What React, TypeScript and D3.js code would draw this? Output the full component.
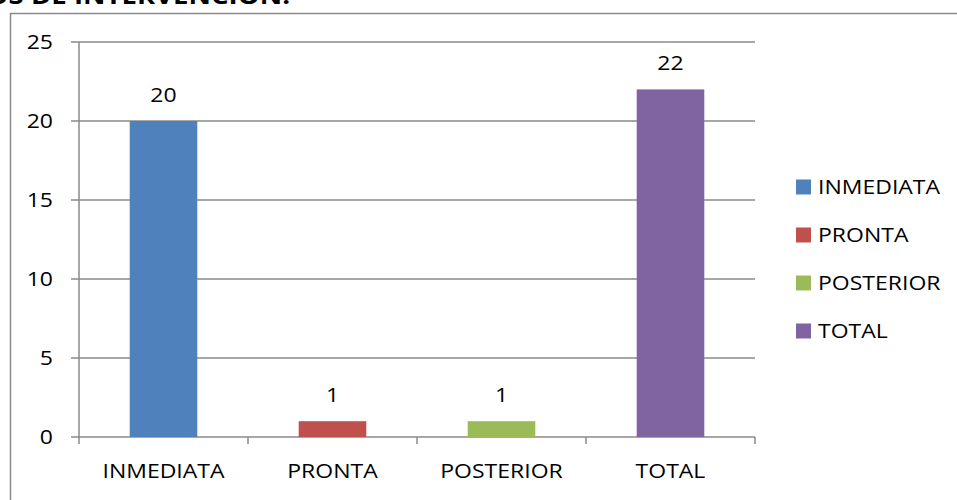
import React from "react";
import * as d3 from "d3";

const categories = ["INMEDIATA", "PRONTA", "POSTERIOR", "TOTAL"];
const values = [20, 1, 1, 22];
const colors = ["#4F81BD", "#C0504D", "#9BBB59", "#8064A2"];
const yTicks = [0, 5, 10, 15, 20, 25];
const titleText = "TIEMPOS DE INTERVENCION:";

const W = 957;
const H = 500;
const left = 79;
const right = 755;
const top = 42;
const bottom = 437;
const FONT = "'Open Sans', sans-serif";
const SX = 1.15;
const grid = "#8a8a8a";

export default function App() {
  const x = d3.scaleBand<string>().domain(categories).range([left, right]).paddingInner(0).paddingOuter(0);
  const y = d3.scaleLinear().domain([0, 25]).range([bottom, top]);
  const bw = x.bandwidth() * 0.4;

  const T = (px: number, py: number, txt: string, anchor: string, size = 20, weight = "normal") => (
    <text
      transform={`translate(${px},${py}) scale(${SX},1)`}
      textAnchor={anchor}
      fontFamily={FONT}
      fontSize={size}
      fontWeight={weight}
      fill="#000"
    >
      {txt}
    </text>
  );

  return (
    <svg width={W} height={H} style={{ position: "absolute", left: 0, top: 0, background: "#fff" }}>
      <rect x={0} y={0} width={W} height={H} fill="#fff" />
      {T(290, 4, titleText, "end", 24, "bold")}
      <rect x={10.5} y={13.5} width={W + 10} height={H + 10} fill="none" stroke={grid} strokeWidth={1.5} />
      {yTicks.map((t) => (
        <g key={t}>
          <line x1={left - 8} x2={right} y1={y(t)} y2={y(t)} stroke={grid} strokeWidth={1.5} />
          {T(53, y(t) + 7, String(t), "end")}
        </g>
      ))}
      <line x1={left} x2={left} y1={top} y2={bottom + 1} stroke={grid} strokeWidth={1.5} />
      {categories.map((c, i) => (
        <g key={c}>
          <line x1={x(c)!} x2={x(c)!} y1={bottom} y2={bottom + 7} stroke={grid} strokeWidth={1.5} />
          <rect
            x={x(c)! + (x.bandwidth() - bw) / 2}
            y={y(values[i])}
            width={bw}
            height={bottom - y(values[i])}
            fill={colors[i]}
          />
          {T(x(c)! + x.bandwidth() / 2, y(values[i]) - 19, String(values[i]), "middle")}
          {T(x(c)! + x.bandwidth() / 2, 478, c, "middle")}
        </g>
      ))}
      <line x1={right} x2={right} y1={bottom} y2={bottom + 7} stroke={grid} strokeWidth={1.5} />
      {categories.map((c, i) => {
        const cy = 187 + i * 48;
        return (
          <g key={"l" + c}>
            <rect x={796} y={cy - 7.5} width={15} height={15} fill={colors[i]} />
            {T(818, cy + 7, c, "start")}
          </g>
        );
      })}
    </svg>
  );
}
